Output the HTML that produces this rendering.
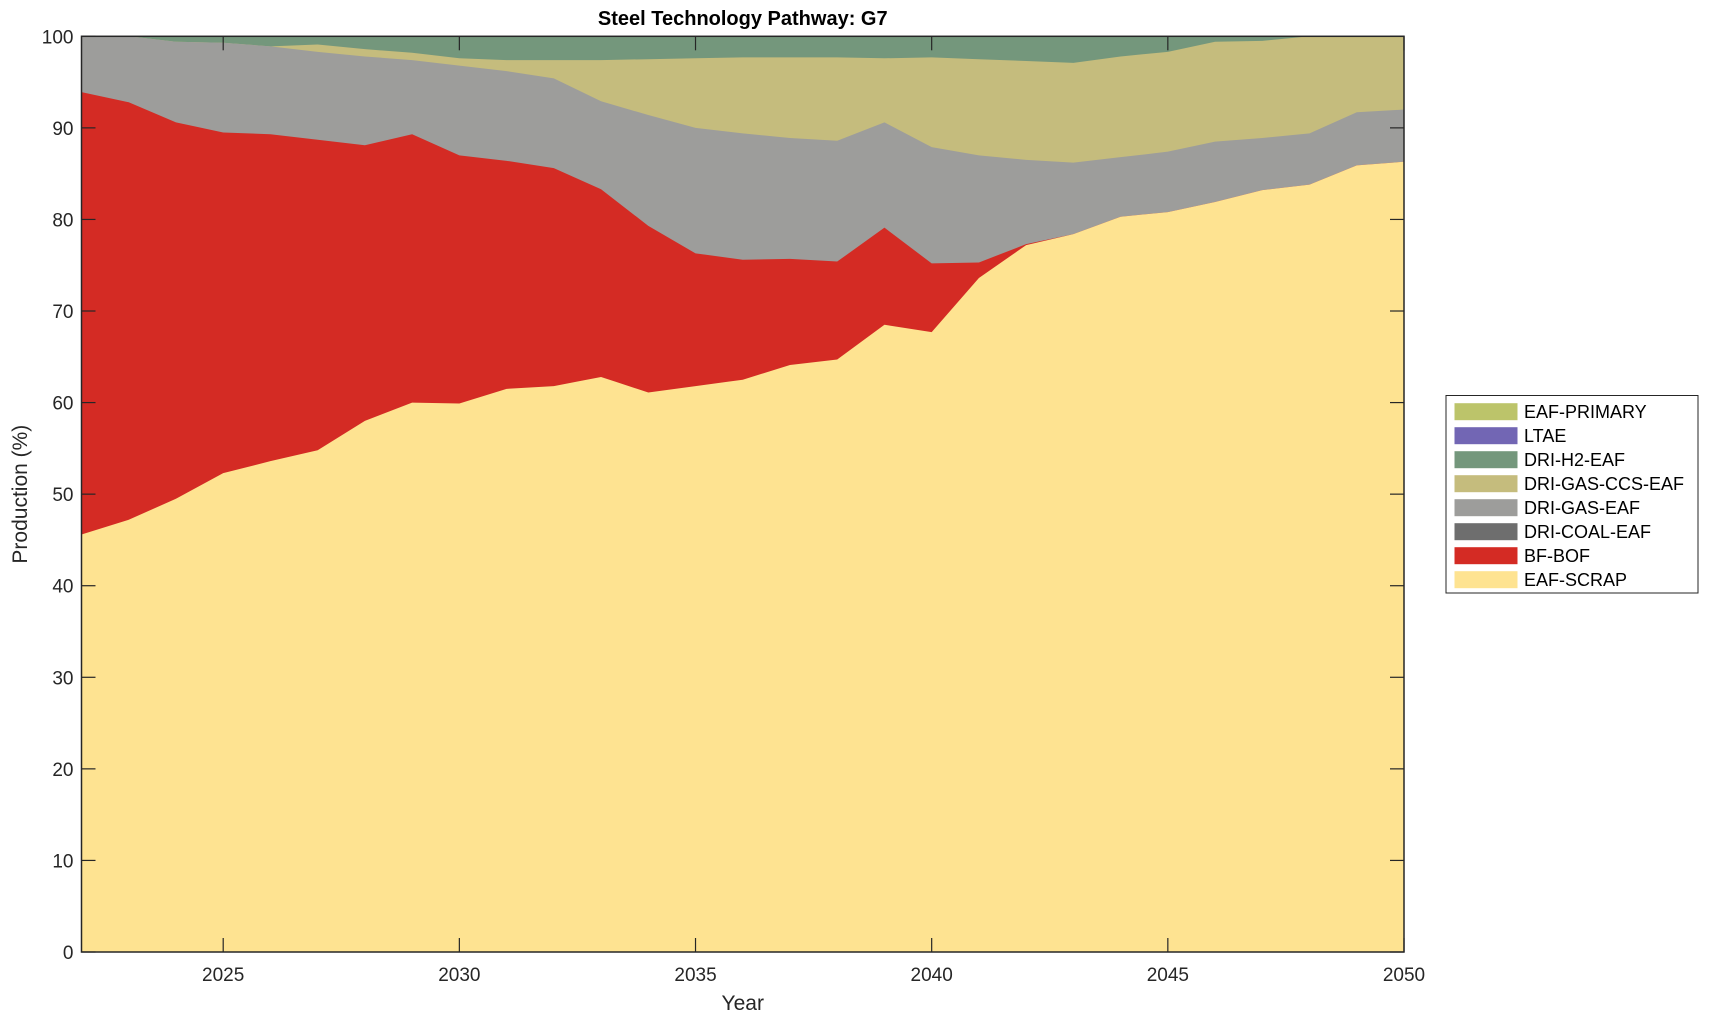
<!DOCTYPE html>
<html><head><meta charset="utf-8"><style>
body{margin:0;background:#fff;}
svg{display:block;font-family:"Liberation Sans",Arial,sans-serif;}
</style></head><body>
<svg id="s" width="1709" height="1021" xmlns="http://www.w3.org/2000/svg"></svg>
<script>
const L=81.5,R=1404,T=36.3,B=952;
const X=y=>L+(y-2022)*(R-L)/28, Y=v=>B-v*(B-T)/100;
const d=[
[45.6,93.9,100,100],[47.2,92.8,100,100],[49.5,90.6,99.4,99.4],[52.3,89.5,99.3,99.3],
[53.6,89.3,98.9,98.9],[54.8,88.7,98.3,99.1],[58.0,88.1,97.8,98.6],[60.0,89.3,97.4,98.2],
[59.9,87.0,96.8,97.6],[61.5,86.4,96.2,97.4],[61.8,85.6,95.4,97.4],[62.8,83.3,92.9,97.4],
[61.1,79.3,91.4,97.5],[61.8,76.3,90.0,97.6],[62.5,75.6,89.4,97.7],[64.1,75.7,88.9,97.7],
[64.7,75.4,88.6,97.7],[68.5,79.1,90.6,97.6],[67.7,75.2,87.9,97.7],[73.6,75.3,87.0,97.5],
[77.2,77.3,86.5,97.3],[78.4,78.4,86.2,97.1],[80.3,80.3,86.8,97.8],[80.8,80.8,87.4,98.3],
[81.9,81.9,88.5,99.4],[83.2,83.2,88.9,99.5],[83.8,83.8,89.4,100],[85.9,85.9,91.7,100],[86.3,86.3,92.0,100]];
const cols=["#fee391","#d42b24","#9d9d9b","#c5bc7d"];
let h='';
h+=`<rect x="${L}" y="${T}" width="${R-L}" height="${B-T}" fill="#74977c"/>`;
for(let k=3;k>=0;k--){
 let p=`${X(2022)},${B} `;
 d.forEach((r,i)=>p+=`${X(2022+i).toFixed(2)},${Y(r[k]).toFixed(2)} `);
 p+=`${X(2050)},${B}`;
 h+=`<polygon points="${p}" fill="${cols[k]}"/>`;
}
h+=`<rect x="${L}" y="${T}" width="${R-L}" height="${B-T}" fill="none" stroke="#262626" stroke-width="1.5"/>`;
for(let v=0;v<=100;v+=10){
 const y=Y(v);
 h+=`<line x1="${L}" x2="${L+14}" y1="${y}" y2="${y}" stroke="#262626" stroke-width="1.2"/><line x1="${R}" x2="${R-14}" y1="${y}" y2="${y}" stroke="#262626" stroke-width="1.2"/>`;
 h+=`<text x="${L-8}" y="${y+7}" font-size="19" text-anchor="end" fill="#262626">${v}</text>`;
}
for(let yr=2025;yr<=2050;yr+=5){
 const x=X(yr);
 h+=`<line x1="${x}" x2="${x}" y1="${B}" y2="${B-14}" stroke="#262626" stroke-width="1.2"/><line x1="${x}" x2="${x}" y1="${T}" y2="${T+14}" stroke="#262626" stroke-width="1.2"/>`;
 h+=`<text x="${x}" y="${B+29}" font-size="19" text-anchor="middle" fill="#262626">${yr}</text>`;
}
h+=`<text x="${(L+R)/2}" y="1010" font-size="21" text-anchor="middle" fill="#262626">Year</text>`;
h+=`<text transform="translate(27,${(T+B)/2}) rotate(-90)" font-size="21" text-anchor="middle" fill="#262626">Production (%)</text>`;
h+=`<text x="${(L+R)/2}" y="25" font-size="20" font-weight="bold" text-anchor="middle" fill="#000">Steel Technology Pathway: G7</text>`;
h+=`<rect x="1446" y="395.5" width="252" height="197.5" fill="#fff" stroke="#262626" stroke-width="1"/>`;
const lg=[["EAF-PRIMARY","#bcc46a"],["LTAE","#7266b4"],["DRI-H2-EAF","#74977c"],["DRI-GAS-CCS-EAF","#c5bc7d"],["DRI-GAS-EAF","#9d9d9b"],["DRI-COAL-EAF","#6e6e6e"],["BF-BOF","#d42b24"],["EAF-SCRAP","#fee391"]];
lg.forEach((e,i)=>{const cy=411.7+i*24;
 h+=`<rect x="1454.5" y="${cy-8.5}" width="63" height="17" fill="${e[1]}"/>`;
 h+=`<text x="1524" y="${cy+6.5}" font-size="18" fill="#000">${e[0]}</text>`;});
document.getElementById('s').innerHTML=h;
</script>
</body></html>
